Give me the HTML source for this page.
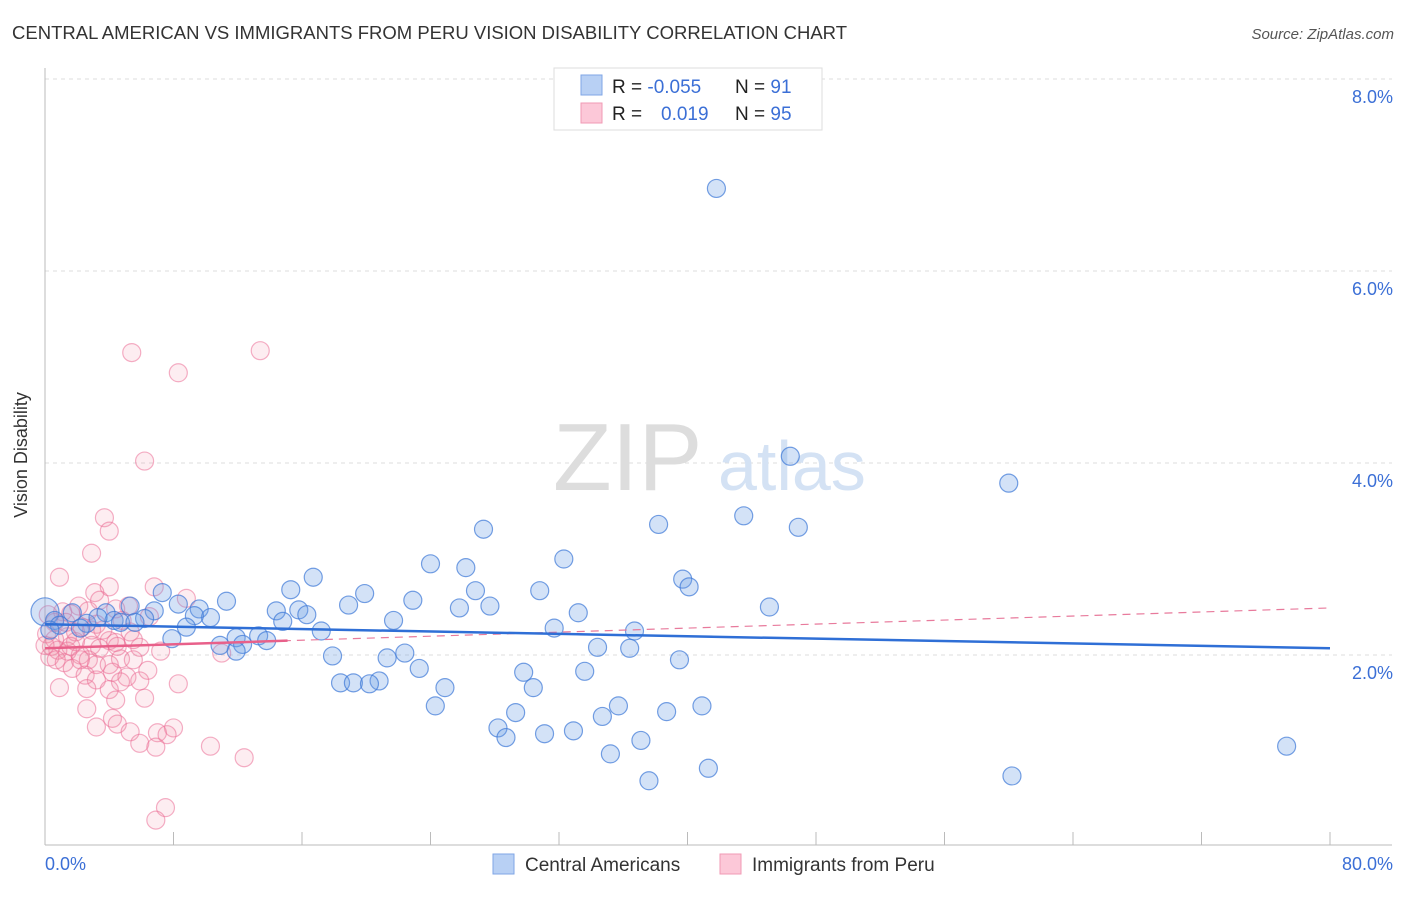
<!DOCTYPE html>
<html><head><meta charset="utf-8"><style>
body{margin:0;background:#fff;font-family:"Liberation Sans",sans-serif;}
svg text{font-family:"Liberation Sans",sans-serif;}
</style></head><body>
<svg width="1406" height="892" viewBox="0 0 1406 892">
<text x="12" y="39" font-size="18.5" fill="#333" textLength="835">CENTRAL AMERICAN VS IMMIGRANTS FROM PERU VISION DISABILITY CORRELATION CHART</text>
<text x="1394" y="39" font-size="15" fill="#555" text-anchor="end" font-style="italic">Source: ZipAtlas.com</text>
<g id="grid"></g>
<g>
<text x="553" y="490" font-size="96" fill="#ddd" font-family="Liberation Serif,serif">ZIP</text>
<text x="718" y="490" font-size="70" fill="#d4e2f4">atlas</text>
</g>
<line x1="45" y1="68" x2="45" y2="845" stroke="#bbb"/>
<line x1="45" y1="845" x2="1392" y2="845" stroke="#bbb"/>
<g id="ticks"></g>
<g id="pts"></g>
<g id="trends"></g>
<text x="27" y="455" font-size="18" fill="#333" text-anchor="middle" transform="rotate(-90 27 455)">Vision Disability</text>
<text x="45" y="870" font-size="18" fill="#3b6fd6">0.0%</text>
<text x="1393" y="870" font-size="18" fill="#3b6fd6" text-anchor="end">80.0%</text>
<g>
<rect x="554" y="68" width="268" height="62" fill="#fff" stroke="#ddd"/>
<rect x="581" y="75" width="21" height="20" fill="#b8d0f4" stroke="#7fa6e6"/>
<rect x="581" y="103" width="21" height="20" fill="#fcc8d8" stroke="#f09ab4"/>
<text x="612" y="93" font-size="19" fill="#222">R = <tspan fill="#3b6fd6">-0.055</tspan></text>
<text x="735" y="93" font-size="19" fill="#222">N = <tspan fill="#3b6fd6"> 91</tspan></text>
<text x="612" y="120" font-size="19" fill="#222">R = <tspan fill="#3b6fd6" x="661">0.019</tspan></text>
<text x="735" y="120" font-size="19" fill="#222">N = <tspan fill="#3b6fd6">95</tspan></text>
</g>
<g>
<rect x="493" y="854" width="21" height="20" fill="#b8d0f4" stroke="#7fa6e6"/>
<text x="525" y="871" font-size="19" fill="#333">Central Americans</text>
<rect x="720" y="854" width="21" height="20" fill="#fcc8d8" stroke="#f09ab4"/>
<text x="752" y="871" font-size="19" fill="#333">Immigrants from Peru</text>
</g>
</svg>
<script>
const yTicks=[2,4,6,8];
const xTicks=[0,8,16,24,32,40,48,56,64,72,80];
const blueX=[41.8,46.4,60.0,43.5,38.2,46.9,27.3,32.3,24.0,26.2,16.7,39.7,40.1,15.3,30.8,26.8,19.9,7.3,22.9,11.3,18.9,27.7,8.3,25.8,45.1,6.8,14.4,15.8,33.2,9.6,16.3,5.3,3.8,1.7,10.3,9.3,21.7,6.2,14.8,4.3,2.6,4.7,8.8,17.2,31.7,36.7,13.3,11.9,7.9,13.8,12.3,10.9,34.4,36.4,11.9,22.4,17.9,21.3,39.5,23.3,33.6,29.8,20.8,18.4,19.2,20.2,30.4,24.9,24.3,29.3,35.7,40.9,38.7,34.7,28.2,32.9,31.1,28.7,37.1,77.3,35.2,41.3,37.6,60.2,0,0.6,0.9,3.3,5.6,0.3,2.2];
const blueY=[6.86,4.07,3.79,3.45,3.36,3.33,3.31,3.0,2.95,2.91,2.81,2.79,2.71,2.68,2.67,2.67,2.64,2.65,2.57,2.56,2.52,2.51,2.53,2.49,2.5,2.46,2.46,2.47,2.44,2.48,2.42,2.51,2.44,2.44,2.39,2.41,2.36,2.38,2.35,2.36,2.33,2.34,2.29,2.25,2.28,2.25,2.2,2.18,2.17,2.15,2.11,2.1,2.08,2.07,2.04,2.02,1.99,1.97,1.95,1.86,1.83,1.82,1.73,1.71,1.71,1.7,1.66,1.66,1.47,1.4,1.47,1.47,1.41,1.36,1.24,1.21,1.18,1.14,1.11,1.05,0.97,0.82,0.69,0.74,2.45,2.36,2.31,2.39,2.34,2.26,2.28];
const pinkX=[5.4,13.4,8.3,6.2,3.7,4.0,2.9,0.9,4.0,6.8,3.1,8.8,3.4,5.2,2.1,4.4,2.7,1.1,6.5,1.6,4.8,0.6,3.2,2.3,5.3,0.1,1.4,4.0,1.9,4.4,2.9,0.4,5.9,0.8,3.4,1.4,7.2,11.0,2.2,0.3,4.7,5.5,2.7,1.2,3.2,1.7,6.4,4.2,2.5,5.1,3.2,4.7,5.9,0.9,2.6,8.3,4.0,4.4,6.2,2.6,4.2,4.5,3.2,8.0,5.3,7.0,7.6,5.9,6.9,10.3,12.4,7.5,6.9,1.9,0.6,1.3,2.9,0,3.6,0.7,0.2,5.5,4.5,1.6,2.2,4.0];
const pinkY=[5.15,5.17,4.94,4.02,3.43,3.29,3.06,2.81,2.71,2.71,2.65,2.59,2.57,2.51,2.51,2.48,2.46,2.45,2.40,2.43,2.36,2.34,2.32,2.29,2.24,2.22,2.19,2.15,2.14,2.13,2.10,2.09,2.08,2.05,2.07,2.04,2.04,2.02,2.0,1.98,1.96,1.95,1.95,1.92,1.90,1.86,1.84,1.82,1.79,1.77,1.74,1.72,1.73,1.66,1.65,1.70,1.64,1.53,1.55,1.44,1.34,1.28,1.25,1.24,1.20,1.19,1.17,1.08,1.04,1.05,0.93,0.41,0.28,2.24,2.16,2.34,2.26,2.1,2.26,1.95,2.42,2.16,2.09,2.09,1.95,1.9];
const blueTrend=[2.32,2.07];
const pinkTrend=[2.07,2.49];
const pinkSolidEnd=15.1;
const X=v=>45+v/80*1285, Y=v=>847-v*96;
const NS='http://www.w3.org/2000/svg';
function mk(tag,attrs,parent){const e=document.createElementNS(NS,tag);for(const k in attrs)e.setAttribute(k,attrs[k]);document.getElementById(parent).appendChild(e);return e;}
yTicks.forEach(t=>{
 const l=mk('line',{x1:45,x2:1392,y1:Y(t),y2:Y(t),stroke:'#ddd','stroke-dasharray':'4,4'},'grid');
 
 
 const tx=mk('text',{x:1393,y:Y(t)+24,'font-size':18,fill:'#3b6fd6','text-anchor':'end'},'grid');
 tx.textContent=t.toFixed(1)+'%';
 
 
});
xTicks.forEach(t=>{
 const l=mk('line',{x1:X(t),x2:X(t),y1:832,y2:845,stroke:'#bbb'},'ticks');
 
 
});
pinkX.forEach((x,i)=>{
 const c=mk('circle',{cx:X(x),cy:Y(pinkY[i]),r:9,fill:'rgba(245,140,170,0.16)',stroke:'rgba(235,110,150,0.55)','stroke-width':1.2},'pts');
 
 
});
blueX.forEach((x,i)=>{
 const c=mk('circle',{cx:X(x),cy:Y(blueY[i]),r:i==84?14:9,fill:'rgba(110,160,230,0.3)',stroke:'rgba(60,120,215,0.7)','stroke-width':1.2},'pts');
 
 
});
const pd=mk('line',{x1:X(0),y1:Y(pinkTrend[0]),x2:X(80),y2:Y(pinkTrend[1]),stroke:'#e87a9c','stroke-width':1.2,'stroke-dasharray':'8,6'},'trends');


const ps=mk('line',{x1:X(0),y1:Y(pinkTrend[0]),x2:X(pinkSolidEnd),y2:Y(pinkTrend[0]+(pinkTrend[1]-pinkTrend[0])*pinkSolidEnd/80),stroke:'#e8608a','stroke-width':2.5},'trends');


const bl=mk('line',{x1:X(0),y1:Y(blueTrend[0]),x2:X(80),y2:Y(blueTrend[1]),stroke:'#2f6fd6','stroke-width':2.5},'trends');


</script>
</body></html>
